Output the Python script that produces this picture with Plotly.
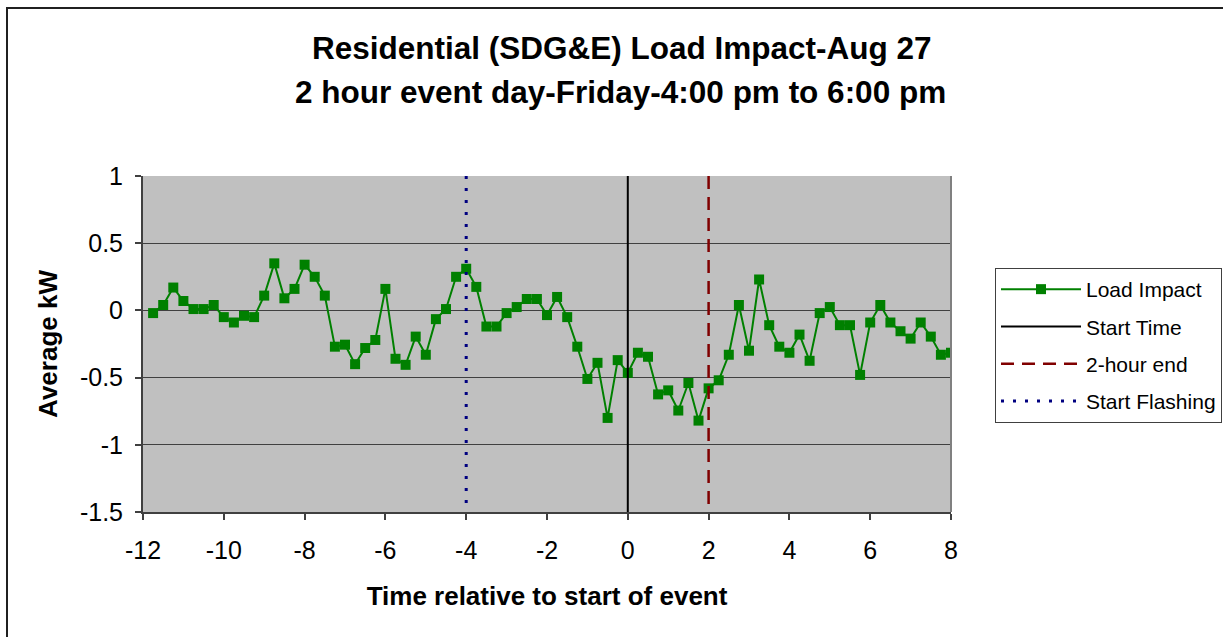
import plotly.graph_objects as go

# Hours relative to event start, 15-minute intervals
hours = [-11.75 + 0.25 * i for i in range(80)]

# Average load impact (kW) per interval
load_impact = [
    -0.02, 0.04, 0.17, 0.07, 0.01, 0.01, 0.04, -0.05, -0.09, -0.04,
    -0.05, 0.11, 0.35, 0.09, 0.16, 0.34, 0.25, 0.11, -0.27, -0.255,
    -0.40, -0.28, -0.22, 0.16, -0.36, -0.405, -0.195, -0.33, -0.065, 0.01,
    0.25, 0.31, 0.175, -0.12, -0.12, -0.02, 0.025, 0.085, 0.085, -0.035,
    0.10, -0.05, -0.27, -0.51, -0.39, -0.80, -0.37, -0.465, -0.315, -0.345,
    -0.625, -0.595, -0.745, -0.54, -0.82, -0.58, -0.52, -0.33, 0.04, -0.30,
    0.23, -0.11, -0.27, -0.315, -0.18, -0.375, -0.02, 0.025, -0.11, -0.11,
    -0.48, -0.09, 0.04, -0.09, -0.155, -0.21, -0.09, -0.195, -0.33, -0.315,
]

# Event markers (hours relative to start)
start_time = 0
two_hour_end = 2
start_flashing = -4

y_range = [-1.5, 1]
x_range = [-12, 8]

x_ticks = [-12, -10, -8, -6, -4, -2, 0, 2, 4, 6, 8]
x_tick_text = ["-12", "-10", "-8", "-6", "-4", "-2", "0", "2", "4", "6", "8"]
y_ticks = [-1.5, -1, -0.5, 0, 0.5, 1]
y_tick_text = ["-1.5", "-1", "-0.5", "0", "0.5", "1"]

FONT = "Arial, Liberation Sans, sans-serif"

fig = go.Figure()

fig.add_trace(go.Scatter(
    x=hours, y=load_impact, mode="lines+markers", name="Load Impact",
    line=dict(color="#008000", width=2),
    marker=dict(symbol="square", size=10, color="#008000"),
    legendgroup="a",
))
fig.add_trace(go.Scatter(
    x=[start_time, start_time], y=y_range, mode="lines", name="Start Time",
    line=dict(color="#000000", width=2), legendgroup="b",
))
fig.add_trace(go.Scatter(
    x=[two_hour_end, two_hour_end], y=[y_range[1], y_range[0]], mode="lines", name="2-hour end",
    line=dict(color="#800000", width=2.5, dash="13px,8px"), legendgroup="c",
))
fig.add_trace(go.Scatter(
    x=[start_flashing, start_flashing], y=[y_range[1], y_range[0]], mode="lines", name="Start Flashing",
    line=dict(color="#000080", width=3, dash="3px,9px"), legendgroup="d",
))

# Canvas size and plot-area box in pixels
W, H = 1223, 637
L, R, T, B = 143, 951, 176, 512


def fx(p):
    return p / W


def fy(p):
    return 1 - p / H


fig.update_layout(
    width=W, height=H,
    margin=dict(l=0, r=0, t=0, b=0, autoexpand=False),
    paper_bgcolor="white",
    plot_bgcolor="#C0C0C0",
    font=dict(family=FONT, size=25, color="black"),
    showlegend=True,
    legend=dict(
        x=fx(995), y=fy(268), xanchor="left", yanchor="top",
        bordercolor="#404040", borderwidth=1, bgcolor="white",
        font=dict(size=21, family=FONT),
        tracegroupgap=7, itemwidth=80,
    ),
    xaxis=dict(
        domain=[fx(L), fx(R)],
        range=x_range, tickvals=x_ticks, ticktext=x_tick_text,
        showgrid=False, zeroline=False, automargin=False,
        ticks="outside", ticklen=6, tickcolor="#404040", tickwidth=1.5,
        ticklabelstandoff=9,
        showline=True, linecolor="#404040", linewidth=2,
        title=dict(text="<b>Time relative to start of event</b>", font=dict(size=26), standoff=24),
    ),
    yaxis=dict(
        domain=[fy(B), fy(T)],
        range=y_range, tickvals=y_ticks, ticktext=y_tick_text,
        showgrid=True, gridcolor="#404040", gridwidth=1, zeroline=False, automargin=False,
        ticks="outside", ticklen=6, tickcolor="#404040", tickwidth=1.5,
        ticklabelstandoff=7,
        showline=True, linecolor="#404040", linewidth=2,
        title=dict(text="<b>Average kW</b>", font=dict(size=26), standoff=15),
    ),
    shapes=[
        # right edge of plot area
        dict(type="line", xref="paper", yref="paper", x0=fx(R), x1=fx(R), y0=fy(B), y1=fy(T),
             line=dict(color="#808080", width=2)),
        # chart outer frame
        dict(type="rect", xref="paper", yref="paper",
             x0=fx(7), x1=fx(1240), y0=fy(660), y1=fy(8),
             line=dict(color="#202020", width=2)),
    ],
    annotations=[
        dict(text="<b>Residential (SDG&E) Load Impact-Aug 27</b>", xref="paper", yref="paper",
             x=fx(622), y=fy(48), xanchor="center", yanchor="middle",
             showarrow=False, font=dict(size=31.5)),
        dict(text="<b>2 hour event day-Friday-4:00 pm to 6:00 pm</b>", xref="paper", yref="paper",
             x=fx(620), y=fy(92), xanchor="center", yanchor="middle",
             showarrow=False, font=dict(size=31.5)),
    ],
)

fig.write_html("out.html")
